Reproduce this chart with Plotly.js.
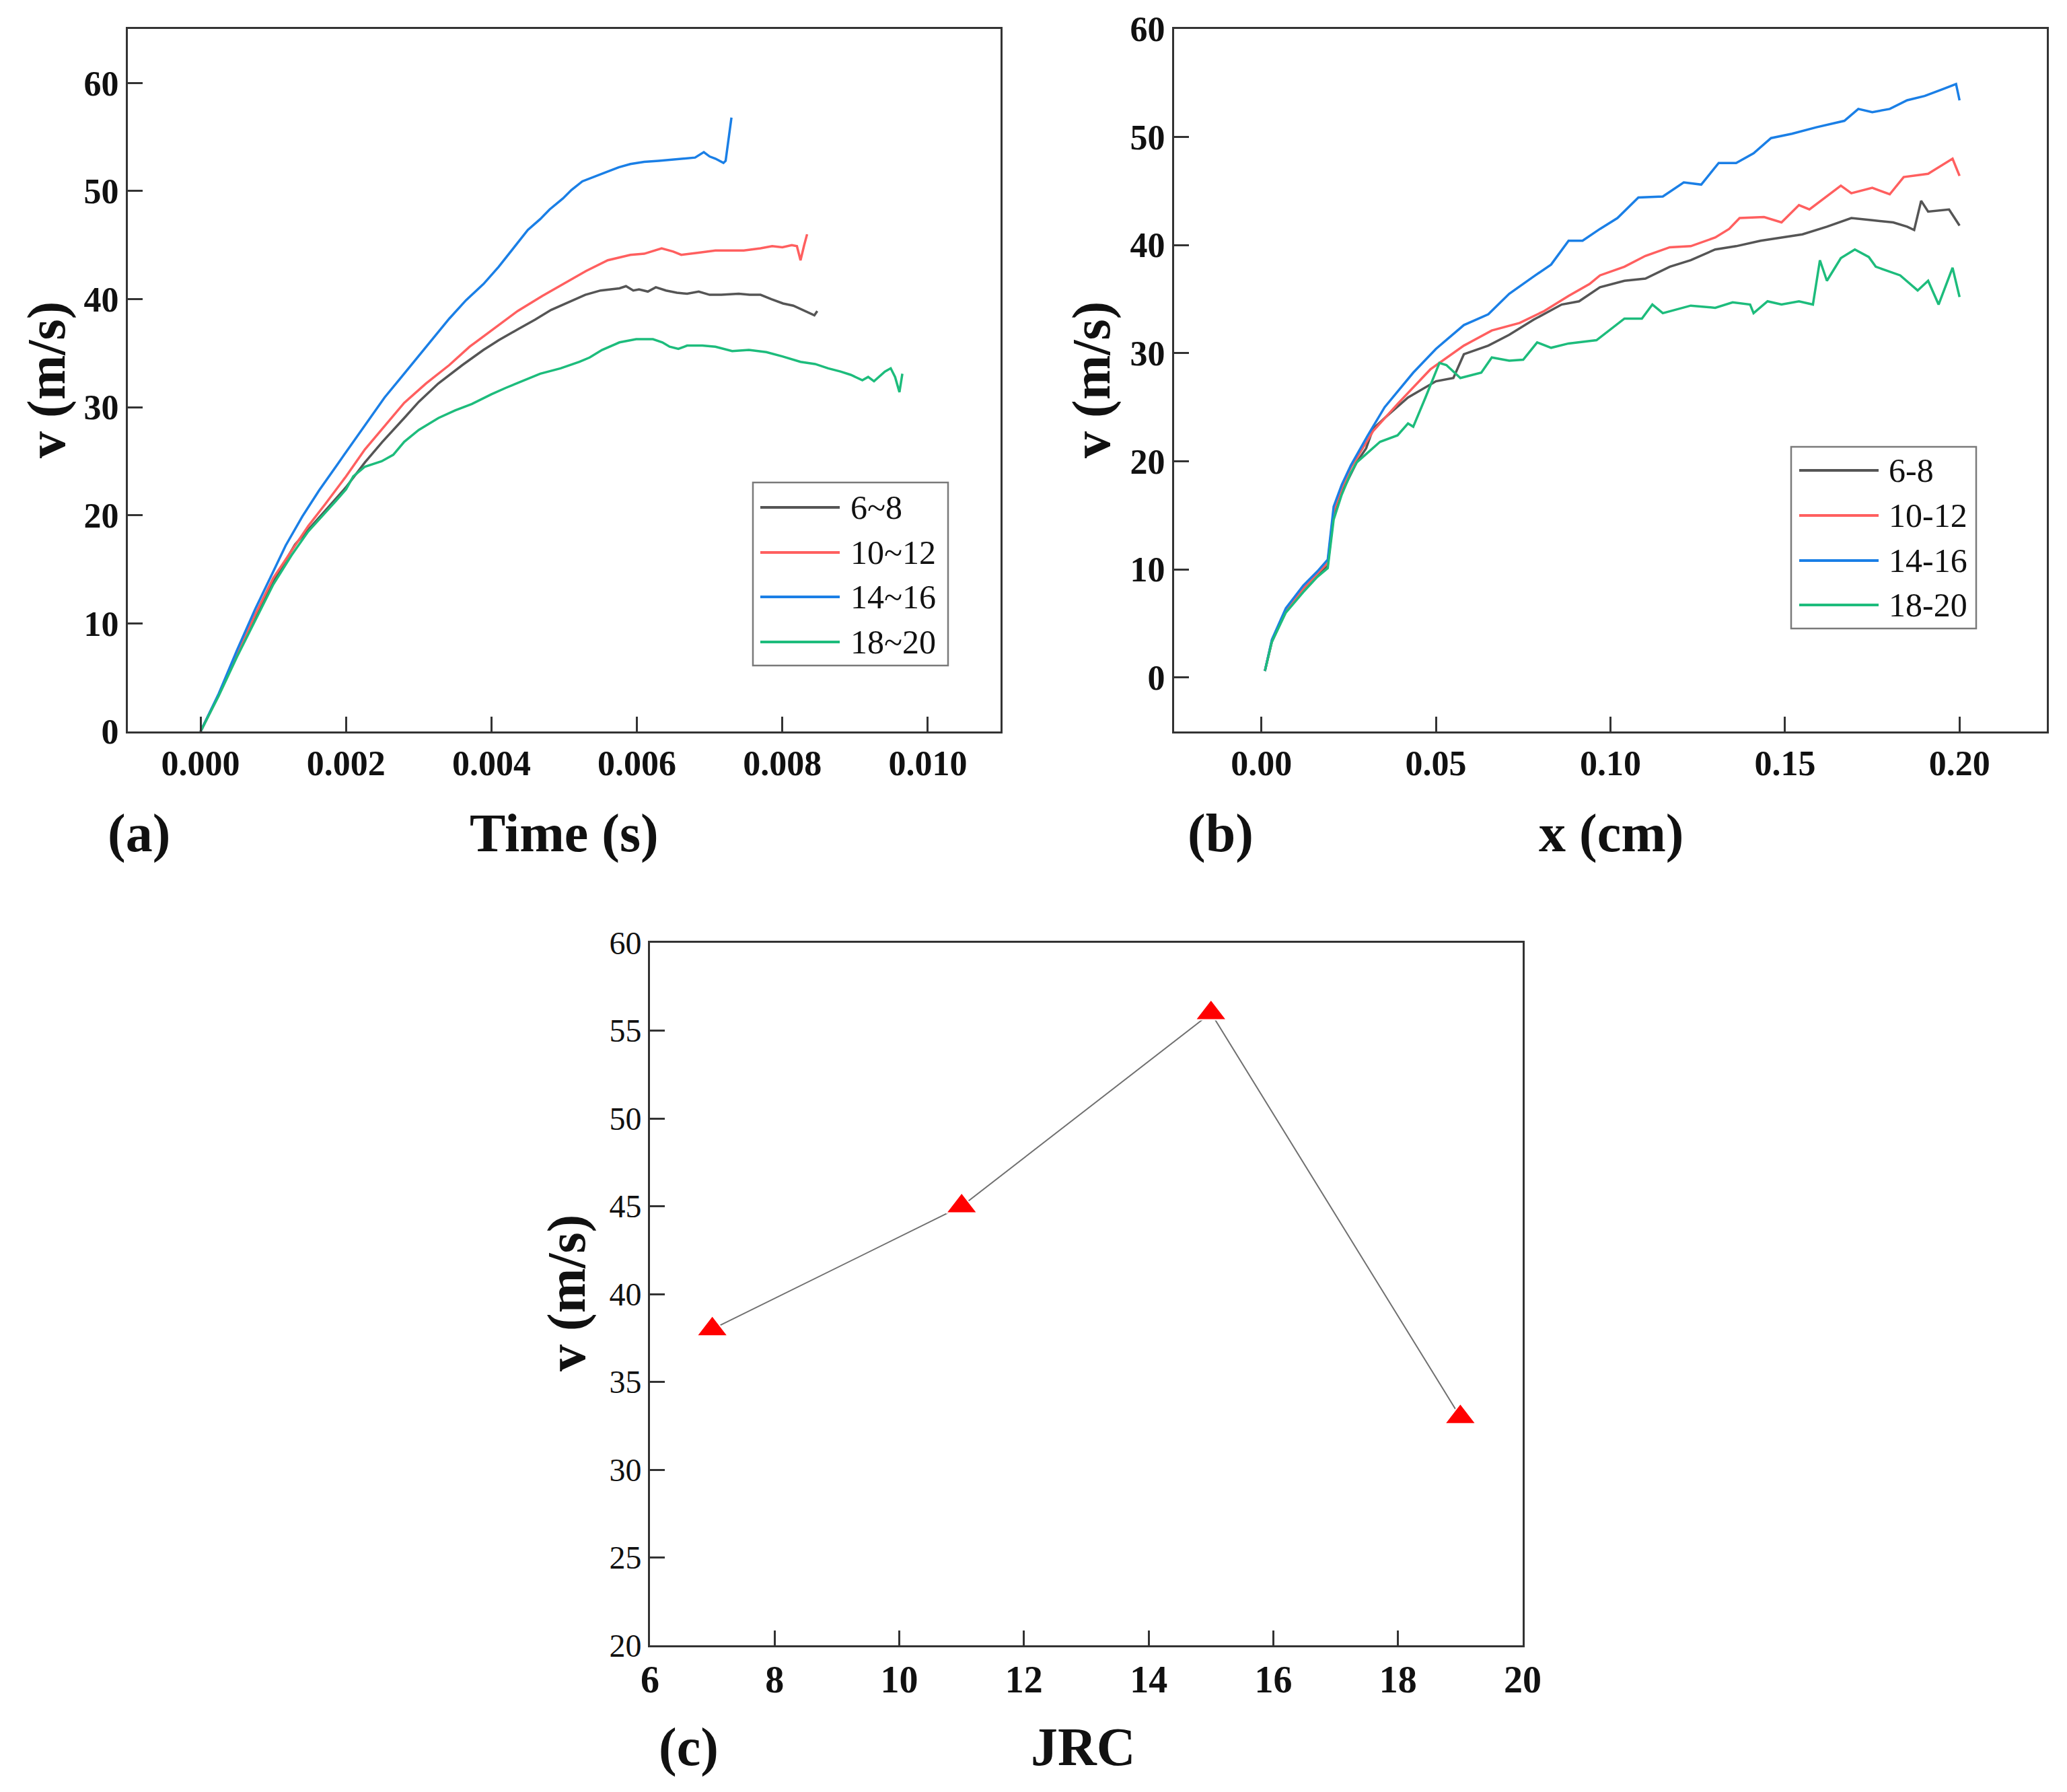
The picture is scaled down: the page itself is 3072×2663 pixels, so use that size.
<!DOCTYPE html>
<html>
<head>
<meta charset="utf-8">
<script src="https://cdn.plot.ly/plotly-3.0.1.min.js"></script>
<style>
  html, body { margin: 0; padding: 0; background: #fff; }
  #fig { width: 3072px; height: 2663px; }
</style>
</head>
<body>
<div id="fig"></div>
<script>
// ── Data ─────────────────────────────────────────────────────────────────

const SERIES_A = ['6~8', '10~12', '14~16', '18~20'];
const SERIES_B = ['6-8', '10-12', '14-16', '18-20'];
const COLORS   = ['#555555', '#ff5f5f', '#1a7fe6', '#1dbc7c'];

// (a) velocity vs time
const a68_t = [0, 0.00025, 0.0005, 0.00075, 0.001, 0.0013, 0.00171, 0.002, 0.00226, 0.0025, 0.0028, 0.003,
  0.00327, 0.0036, 0.00389, 0.0041, 0.00436, 0.0046, 0.00482, 0.00505, 0.00529, 0.0055, 0.00576, 0.00585,
  0.00595, 0.00603, 0.00615, 0.00626, 0.0064, 0.00655, 0.00669, 0.00685, 0.007, 0.00716, 0.0074, 0.00755,
  0.0077, 0.00785, 0.00801, 0.00815, 0.00825, 0.00835, 0.00844, 0.00848];
const a68_v = [0, 3.4, 7.1, 10.6, 13.9, 17.3, 20.4, 22.6, 24.9, 26.8, 29.0, 30.5,
  32.2, 33.9, 35.3, 36.2, 37.2, 38.1, 39.0, 39.7, 40.4, 40.8, 41.0, 41.2,
  40.8, 40.9, 40.7, 41.1, 40.8, 40.6, 40.5, 40.7, 40.4, 40.4, 40.5, 40.4,
  40.4, 40.0, 39.6, 39.4, 39.1, 38.8, 38.5, 38.9];

const a1012_t = [0, 0.00025, 0.0005, 0.00075, 0.001, 0.00124, 0.00148, 0.00171, 0.002, 0.00226, 0.0025,
  0.0028, 0.0031, 0.00342, 0.0037, 0.004, 0.00436, 0.0047, 0.00498, 0.0053, 0.0056, 0.00591, 0.0061,
  0.00634, 0.0065, 0.00661, 0.00685, 0.00708, 0.0073, 0.00747, 0.0077, 0.00786, 0.008, 0.00813, 0.0082,
  0.00825, 0.0083, 0.00834];
const a1012_v = [0, 3.4, 7.2, 10.8, 14.2, 16.6, 19.0, 21.0, 23.6, 26.1, 28.0,
  30.4, 32.2, 33.9, 35.6, 37.1, 38.9, 40.3, 41.4, 42.6, 43.6, 44.1, 44.2,
  44.7, 44.4, 44.1, 44.3, 44.5, 44.5, 44.5, 44.7, 44.9, 44.8, 45.0, 44.9,
  43.6, 45.0, 46.0];

const a1416_t = [0, 0.00025, 0.0005, 0.00075, 0.001, 0.00117, 0.0014, 0.00163, 0.00187, 0.0021, 0.00233,
  0.00253, 0.00275, 0.00296, 0.0032, 0.00342, 0.00365, 0.00389, 0.0041, 0.00436, 0.0045, 0.00467, 0.0048,
  0.00498, 0.0051, 0.00525, 0.0054, 0.0056, 0.00575, 0.00591, 0.0061, 0.0063, 0.0065, 0.00669, 0.0068,
  0.00692, 0.007, 0.00708, 0.00719, 0.00722, 0.0073];
const a1416_v = [0, 3.5, 7.5, 11.3, 14.8, 17.2, 19.9, 22.3, 24.6, 26.8, 29.0,
  30.9, 32.7, 34.4, 36.4, 38.2, 39.9, 41.4, 43.0, 45.2, 46.4, 47.4, 48.3,
  49.3, 50.1, 50.9, 51.3, 51.8, 52.2, 52.5, 52.7, 52.8, 52.9, 53.0, 53.1,
  53.6, 53.2, 53.0, 52.6, 52.8, 56.8];

const a1820_t = [0, 0.00025, 0.0005, 0.00075, 0.001, 0.00125, 0.00148, 0.00187, 0.002, 0.0021, 0.00226,
  0.00249, 0.00265, 0.0028, 0.003, 0.00327, 0.0035, 0.00373, 0.004, 0.0042, 0.00445, 0.00467, 0.00495,
  0.00521, 0.00535, 0.00552, 0.00576, 0.00599, 0.00622, 0.00635, 0.00645, 0.00657, 0.00669, 0.0069,
  0.00708, 0.00731, 0.00754, 0.00778, 0.008, 0.00825, 0.00845, 0.00863, 0.0088, 0.00894, 0.0091, 0.00918,
  0.00926, 0.00941, 0.00949, 0.00955, 0.00961, 0.00965];
const a1820_v = [0, 3.3, 6.9, 10.3, 13.6, 16.3, 18.5, 21.4, 22.4, 23.6, 24.5,
  25.0, 25.6, 26.8, 27.9, 29.0, 29.7, 30.3, 31.2, 31.8, 32.5, 33.1, 33.6,
  34.2, 34.6, 35.3, 36.0, 36.3, 36.3, 36.0, 35.6, 35.4, 35.7, 35.7,
  35.6, 35.2, 35.3, 35.1, 34.7, 34.2, 34.0, 33.6, 33.3, 33.0, 32.5, 32.8,
  32.4, 33.3, 33.6, 32.8, 31.4, 33.1];

// (b) velocity vs displacement
const b68_x = [0.001, 0.003, 0.007, 0.012, 0.016, 0.019, 0.0207, 0.023, 0.0273, 0.030, 0.032, 0.0353,
  0.042, 0.050, 0.055, 0.058, 0.065, 0.071, 0.078, 0.086, 0.091, 0.097, 0.104, 0.110, 0.117, 0.123,
  0.130, 0.136, 0.143, 0.149, 0.155, 0.162, 0.169, 0.175, 0.181, 0.185, 0.187, 0.189, 0.191, 0.197, 0.200];
const b68_v = [0.6, 3.3, 6.1, 8.0, 9.4, 10.4, 15.0, 17.1, 19.9, 21.2, 23.0, 24.0,
  25.9, 27.4, 27.7, 29.9, 30.7, 31.7, 33.1, 34.5, 34.8, 36.1, 36.7, 36.9, 38.0, 38.6,
  39.6, 39.9, 40.4, 40.7, 41.0, 41.7, 42.5, 42.3, 42.1, 41.7, 41.4, 44.1, 43.1, 43.3, 41.8];

const b1012_x = [0.001, 0.003, 0.007, 0.012, 0.016, 0.019, 0.0207, 0.023, 0.0256, 0.032, 0.039, 0.0484,
  0.058, 0.066, 0.074, 0.081, 0.088, 0.094, 0.097, 0.104, 0.110, 0.117, 0.123, 0.130, 0.134, 0.137,
  0.144, 0.149, 0.154, 0.157, 0.166, 0.169, 0.175, 0.180, 0.184, 0.191, 0.198, 0.200];
const b1012_v = [0.6, 3.4, 6.2, 8.2, 9.6, 10.6, 15.4, 17.5, 19.4, 22.8, 25.3, 28.5,
  30.7, 32.1, 32.8, 33.9, 35.3, 36.4, 37.2, 38.0, 39.0, 39.8, 39.9, 40.7, 41.5, 42.5,
  42.6, 42.1, 43.7, 43.3, 45.5, 44.8, 45.3, 44.7, 46.3, 46.6, 48.0, 46.4];

const b1416_x = [0.001, 0.003, 0.007, 0.012, 0.016, 0.019, 0.0207, 0.023, 0.0256, 0.0305, 0.0353, 0.0435,
  0.050, 0.058, 0.065, 0.071, 0.078, 0.083, 0.088, 0.092, 0.097, 0.102, 0.108, 0.115, 0.121, 0.126,
  0.131, 0.136, 0.141, 0.146, 0.152, 0.159, 0.167, 0.171, 0.175, 0.180, 0.185, 0.190, 0.195, 0.199, 0.200];
const b1416_v = [0.6, 3.5, 6.4, 8.5, 9.8, 10.9, 15.8, 17.8, 19.6, 22.4, 25.0, 28.2,
  30.4, 32.6, 33.6, 35.5, 37.1, 38.2, 40.4, 40.4, 41.5, 42.5, 44.4, 44.5, 45.8, 45.6,
  47.6, 47.6, 48.5, 49.9, 50.3, 50.9, 51.5, 52.6, 52.3, 52.6, 53.4, 53.8, 54.4, 54.9, 53.4];

const b1820_x = [0.001, 0.003, 0.007, 0.012, 0.016, 0.019, 0.0207, 0.023, 0.0256, 0.0273, 0.034, 0.039,
  0.042, 0.0435, 0.047, 0.051, 0.053, 0.057, 0.063, 0.066, 0.071, 0.075, 0.079, 0.083, 0.088, 0.096,
  0.104, 0.109, 0.112, 0.115, 0.123, 0.130, 0.135, 0.140, 0.141, 0.145, 0.149, 0.154, 0.158, 0.160,
  0.162, 0.166, 0.170, 0.174, 0.176, 0.183, 0.188, 0.191, 0.194, 0.198, 0.200];
const b1820_v = [0.6, 3.3, 6.0, 7.9, 9.3, 10.1, 14.6, 16.9, 18.9, 19.9, 21.8, 22.4,
  23.5, 23.2, 25.9, 29.1, 28.9, 27.7, 28.2, 29.6, 29.3, 29.4, 31.0, 30.5, 30.9, 31.2,
  33.2, 33.2, 34.5, 33.7, 34.4, 34.2, 34.7, 34.5, 33.7, 34.8, 34.5, 34.8, 34.5, 38.6,
  36.7, 38.8, 39.6, 38.9, 38.0, 37.2, 35.8, 36.7, 34.5, 37.9, 35.2];

// (c) peak velocity vs JRC
const jrc  = [7, 11, 15, 19];
const vmax = [38, 45, 56, 33];

// ── Layout helpers (pixel -> paper fraction) ─────────────────────────────

const W = 3072, H = 2663;
const FONT = 'Liberation Serif, Times New Roman, serif';
const px = x => x / W;
const py = y => 1 - y / H;

function axisBase(extra) {
  return Object.assign({
    showline: true, linecolor: '#333333', linewidth: 3, mirror: true,
    ticks: 'inside', ticklen: 22, tickwidth: 3, tickcolor: '#333333',
    showgrid: false, zeroline: false, fixedrange: true,
    tickfont: { family: FONT, size: 52, color: '#111111', weight: 'bold' },
  }, extra);
}

function label(text, x, y, size, angle) {
  return {
    text, x: px(x), y: py(y), xref: 'paper', yref: 'paper', showarrow: false,
    xanchor: 'center', yanchor: 'middle', textangle: angle || 0,
    font: { family: FONT, size: size, color: '#111111', weight: 'bold' },
  };
}

// Boxed legend drawn in paper space: box [x0,y0,x1,y1], row centres, sample line span
function legendBox(names, box, rows, lineX0, lineX1, textX) {
  const shapes = [{
    type: 'rect', xref: 'paper', yref: 'paper',
    x0: px(box[0]), x1: px(box[2]), y0: py(box[1]), y1: py(box[3]),
    line: { color: '#7a7a7a', width: 2.5 }, fillcolor: 'rgba(255,255,255,0)',
  }];
  const annotations = [];
  names.forEach((name, i) => {
    shapes.push({
      type: 'line', xref: 'paper', yref: 'paper',
      x0: px(lineX0), x1: px(lineX1), y0: py(rows[i]), y1: py(rows[i]),
      line: { color: COLORS[i], width: 4 },
    });
    annotations.push({
      text: name, x: px(textX), y: py(rows[i]), xref: 'paper', yref: 'paper',
      showarrow: false, xanchor: 'left', yanchor: 'middle',
      font: { family: FONT, size: 50, color: '#111111' },
    });
  });
  return { shapes, annotations };
}

// ── Traces ───────────────────────────────────────────────────────────────

function curve(x, y, i, xa, ya) {
  return {
    type: 'scatter', mode: 'lines', x, y, xaxis: xa, yaxis: ya,
    line: { color: COLORS[i], width: 3.5 }, showlegend: false, hoverinfo: 'skip',
  };
}

const traces = [
  curve(a68_t,   a68_v,   0, 'x', 'y'),
  curve(a1012_t, a1012_v, 1, 'x', 'y'),
  curve(a1416_t, a1416_v, 2, 'x', 'y'),
  curve(a1820_t, a1820_v, 3, 'x', 'y'),
  curve(b68_x,   b68_v,   0, 'x2', 'y2'),
  curve(b1012_x, b1012_v, 1, 'x2', 'y2'),
  curve(b1416_x, b1416_v, 2, 'x2', 'y2'),
  curve(b1820_x, b1820_v, 3, 'x2', 'y2'),
  {
    type: 'scatter', mode: 'lines+markers', x: jrc, y: vmax, xaxis: 'x3', yaxis: 'y3',
    line: { color: '#707070', width: 2 },
    marker: { symbol: 'triangle-up', size: 40, color: '#ff0000', line: { color: '#ffffff', width: 2 } },
    showlegend: false, hoverinfo: 'skip',
  },
];

// ── Layout ───────────────────────────────────────────────────────────────

const legA = legendBox(SERIES_A, [1119, 717, 1409, 989], [754, 821, 887, 954], 1130, 1248, 1262);
const legB = legendBox(SERIES_B, [2662, 664, 2937, 934], [699, 766, 833, 899], 2674, 2792, 2805);

const layout = {
  width: W, height: H,
  margin: { l: 0, r: 0, t: 0, b: 0 },
  paper_bgcolor: '#ffffff', plot_bgcolor: '#ffffff',
  showlegend: false,
  xaxis: axisBase({ domain: [px(190), px(1487)], range: [-0.001, 0.011], anchor: 'y',
    tickvals: [0, 0.002, 0.004, 0.006, 0.008, 0.010], tickformat: '.3f' }),
  yaxis: axisBase({ domain: [py(1087), py(43)], range: [0, 65], anchor: 'x',
    tick0: 0, dtick: 10 }),
  xaxis2: axisBase({ domain: [px(1745), px(3042)], range: [-0.025, 0.225], anchor: 'y2',
    tick0: 0, dtick: 0.05, tickformat: '.2f' }),
  yaxis2: axisBase({ domain: [py(1087), py(43)], range: [-5, 60], anchor: 'x2',
    tick0: 0, dtick: 10 }),
  xaxis3: axisBase({ domain: [px(966), px(2263)], range: [6, 20], anchor: 'y3',
    tick0: 6, dtick: 2,
    tickfont: { family: FONT, size: 56, color: '#111111', weight: 'bold' } }),
  yaxis3: axisBase({ domain: [py(2445), py(1401)], range: [20, 60], anchor: 'x3',
    tick0: 20, dtick: 5, tickfont: { family: FONT, size: 48, color: '#111111' } }),
  shapes: [...legA.shapes, ...legB.shapes],
  annotations: [
    label('(a)', 206, 1238, 80),
    label('Time (s)', 838, 1238, 80),
    label('v (m/s)', 69, 565, 80, -90),
    label('(b)', 1814, 1238, 80),
    label('x (cm)', 2394, 1238, 80),
    label('v (m/s)', 1622, 565, 80, -90),
    label('(c)', 1023, 2596, 80),
    label('JRC', 1610, 2596, 80),
    label('v (m/s)', 842, 1922, 80, -90),
    ...legA.annotations,
    ...legB.annotations,
  ],
};

Plotly.newPlot('fig', traces, layout, { displayModeBar: false, staticPlot: true });
</script>
</body>
</html>
